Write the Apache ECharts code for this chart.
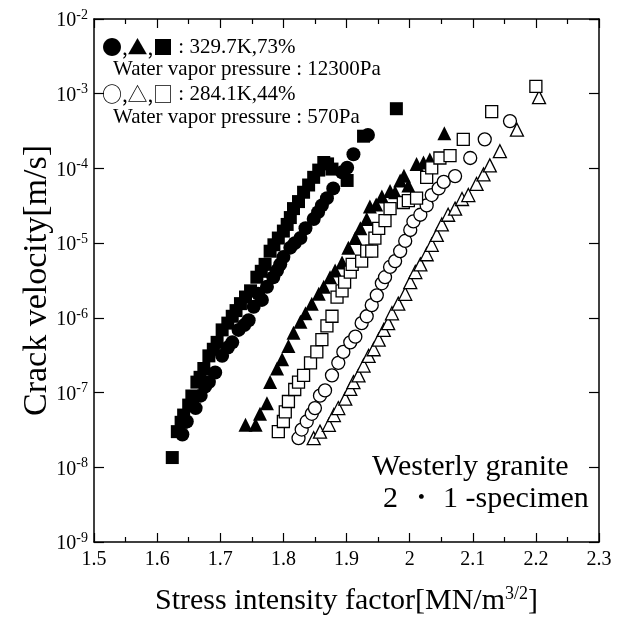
<!DOCTYPE html>
<html><head><meta charset="utf-8">
<script src="https://cdn.jsdelivr.net/npm/echarts@6/dist/echarts.min.js"></script>
<style>html,body{margin:0;padding:0;background:#fff}#c{width:638px;height:621px}</style>
</head><body><div id="c"></div><script>
// ---- data (Stress intensity factor [MN/m^3/2], Crack velocity [m/s]) ----
const hotCircles = [[1.640,2.75e-8],[1.647,4.1e-8],[1.661,6.2e-8],[1.669,9.1e-8],[1.682,1.38e-7],[1.692,1.86e-7],[1.703,3.1e-7],[1.719,4.7e-7],[1.729,6.9e-7],[1.745,9.3e-7],[1.753,1.41e-6],[1.766,1.74e-6],[1.774,2.6e-6],[1.784,3.5e-6],[1.795,5.2e-6],[1.800,6.5e-6],[1.811,8.7e-6],[1.827,1.17e-5],[1.835,1.58e-5],[1.848,2.1e-5],[1.861,3.2e-5],[1.869,4.0e-5],[1.879,5.4e-5],[1.893,8.9e-5],[1.901,1.02e-4],[1.911,1.55e-4],[1.934,2.8e-4],[1.676,1.2e-7],[1.712,4.0e-7],[1.738,8.0e-7],[1.760,2.1e-6],[1.790,4.3e-6],[1.818,1.0e-5],[1.855,2.6e-5]];
const hotTriangles = [[1.740,3.7e-8],[1.756,3.7e-8],[1.763,5.2e-8],[1.774,7.2e-8],[1.779,1.38e-7],[1.790,2.1e-7],[1.798,2.8e-7],[1.808,4.2e-7],[1.816,6.3e-7],[1.827,8.9e-7],[1.835,1.15e-6],[1.845,1.55e-6],[1.856,2.1e-6],[1.864,2.6e-6],[1.874,3.5e-6],[1.882,4.3e-6],[1.893,5.5e-6],[1.903,8.7e-6],[1.914,1.17e-5],[1.922,1.58e-5],[1.932,2.1e-5],[1.937,3.1e-5],[1.947,3.3e-5],[1.956,4.2e-5],[1.969,5.0e-5],[1.977,4.8e-5],[1.985,6.9e-5],[1.991,8.0e-5],[1.998,5.9e-5],[2.011,1.15e-4],[2.022,1.2e-4],[2.032,1.32e-4],[2.055,2.95e-4]];
const hotSquares = [[1.624,1.35e-8],[1.632,3.0e-8],[1.638,4.0e-8],[1.642,5.0e-8],[1.650,6.8e-8],[1.655,9.0e-8],[1.663,1.38e-7],[1.668,1.6e-7],[1.674,2.1e-7],[1.682,3.1e-7],[1.689,3.8e-7],[1.695,4.7e-7],[1.703,6.9e-7],[1.712,8.5e-7],[1.719,1.05e-6],[1.725,1.25e-6],[1.732,1.55e-6],[1.740,1.9e-6],[1.748,2.3e-6],[1.758,3.5e-6],[1.765,4.2e-6],[1.771,5.2e-6],[1.779,7.8e-6],[1.785,9.5e-6],[1.792,1.17e-5],[1.800,1.45e-5],[1.806,1.78e-5],[1.811,2.2e-5],[1.816,2.9e-5],[1.824,3.6e-5],[1.832,4.8e-5],[1.840,6.0e-5],[1.848,7.6e-5],[1.856,9.5e-5],[1.864,1.2e-4],[1.870,1.15e-4],[1.877,9.8e-5],[1.901,6.9e-5],[1.927,2.7e-4],[1.979,6.3e-4]];
const coldCircles = [[1.824,2.45e-8],[1.829,3.2e-8],[1.837,4.1e-8],[1.845,5.2e-8],[1.850,6.2e-8],[1.858,9.1e-8],[1.866,1.07e-7],[1.877,1.7e-7],[1.887,2.5e-7],[1.895,3.5e-7],[1.906,4.7e-7],[1.914,5.6e-7],[1.924,8.5e-7],[1.932,1.05e-6],[1.940,1.48e-6],[1.948,2.0e-6],[1.956,2.9e-6],[1.961,3.5e-6],[1.969,4.8e-6],[1.977,5.75e-6],[1.985,7.8e-6],[1.993,1.07e-5],[2.001,1.5e-5],[2.006,1.95e-5],[2.017,2.4e-5],[2.027,3.2e-5],[2.035,4.4e-5],[2.046,5.4e-5],[2.054,6.6e-5],[2.072,7.9e-5],[2.096,1.38e-4],[2.119,2.45e-4],[2.159,4.3e-4]];
const coldTriangles = [[1.848,2.45e-8],[1.858,3.0e-8],[1.872,3.7e-8],[1.880,5.0e-8],[1.887,6.2e-8],[1.898,8.3e-8],[1.906,1.12e-7],[1.911,1.38e-7],[1.919,1.7e-7],[1.927,2.3e-7],[1.935,3.1e-7],[1.943,3.8e-7],[1.951,5.1e-7],[1.959,6.9e-7],[1.966,8.5e-7],[1.972,1.15e-6],[1.982,1.55e-6],[1.993,2.1e-6],[2.001,3.0e-6],[2.009,4.1e-6],[2.017,5.2e-6],[2.027,7.1e-6],[2.035,9.5e-6],[2.043,1.29e-5],[2.051,1.78e-5],[2.061,2.4e-5],[2.072,2.9e-5],[2.083,3.9e-5],[2.093,4.4e-5],[2.106,6.2e-5],[2.117,8.3e-5],[2.127,1.1e-4],[2.143,1.7e-4],[2.170,3.3e-4],[2.205,9.0e-4]];
const coldSquares = [[1.792,3.0e-8],[1.800,4.1e-8],[1.803,5.5e-8],[1.808,7.6e-8],[1.818,1.1e-7],[1.824,1.38e-7],[1.832,1.7e-7],[1.843,2.5e-7],[1.853,3.5e-7],[1.861,5.1e-7],[1.869,7.8e-7],[1.877,1.05e-6],[1.885,1.9e-6],[1.893,2.3e-6],[1.897,3.0e-6],[1.906,4.1e-6],[1.909,5.2e-6],[1.924,5.75e-6],[1.932,7.8e-6],[1.940,7.8e-6],[1.945,1.17e-5],[1.951,1.58e-5],[1.961,2.0e-5],[1.969,2.9e-5],[1.990,3.5e-5],[1.998,3.7e-5],[2.011,4.0e-5],[2.027,7.6e-5],[2.035,1.02e-4],[2.048,1.38e-4],[2.064,1.48e-4],[2.085,2.45e-4],[2.130,5.75e-4],[2.200,1.25e-3]];
const xRange = [1.5, 2.3];
const yRange = [1e-9, 1e-2];
const legendLines = ['●,▲,■', ' : 329.7K,73%', 'Water vapor pressure : 12300Pa', '○,△,□', ' : 284.1K,44%', 'Water vapor pressure : 570Pa'];
const noteLines = ['Westerly granite', '2 ・ 1 -specimen'];

const FONT = "'Liberation Serif','Times New Roman',serif";
const GLYPH = "'Noto Sans CJK JP','DejaVu Sans',sans-serif";
const chart = echarts.init(document.getElementById('c'), null, {renderer: 'canvas'});
const filled = {color: '#000', opacity: 1};
const open = {color: '#fff', borderColor: '#000', borderWidth: 1.3, opacity: 1};
function sc(name, data, symbol, style, size) {
  return {name, type: 'scatter', data, symbol, symbolSize: size, itemStyle: style,
    xAxisIndex: 0, yAxisIndex: 0, animation: false, emphasis: {disabled: true}};
}
const baseX = {type: 'value', min: xRange[0], max: xRange[1], interval: 0.1,
  axisLine: {show: true, lineStyle: {color: '#000', width: 1.5}},
  axisTick: {show: true, inside: true, length: 9, lineStyle: {color: '#000', width: 1.2}},
  minorTick: {show: true, splitNumber: 2, length: 5, lineStyle: {color: '#000', width: 1.2}},
  splitLine: {show: false}};
const baseY = {type: 'log', logBase: 10, min: yRange[0], max: yRange[1],
  axisLine: {show: true, lineStyle: {color: '#000', width: 1.5}},
  axisTick: {show: true, inside: true, length: 10, lineStyle: {color: '#000', width: 1.2}},
  splitLine: {show: false}};
chart.setOption({
  backgroundColor: '#fff',
  animation: false,
  grid: {left: 94, right: 39, top: 19, bottom: 71, containLabel: false},
  xAxis: [
    Object.assign({}, baseX, {position: 'bottom',
      name: '{t|Stress intensity factor[MN/m}{s|3/2}{t|]}', nameLocation: 'middle', nameGap: 42,
      nameTextStyle: {rich: {t: {fontFamily: FONT, fontSize: 30, color: '#000', verticalAlign: 'bottom', lineHeight: 32},
        s: {fontFamily: FONT, fontSize: 18, color: '#000', verticalAlign: 'bottom', lineHeight: 32, padding: [0, 0, 13, 0]}}},
      axisLabel: {show: true, margin: 8, fontFamily: FONT, fontSize: 20, color: '#000',
        formatter: v => String(+v.toFixed(1))}}),
    Object.assign({}, baseX, {position: 'top', axisLabel: {show: false}})
  ],
  yAxis: [
    Object.assign({}, baseY, {position: 'left',
      name: 'Crack velocity[m/s]', nameLocation: 'middle', nameGap: 40, nameMoveOverlap: false,
      nameTextStyle: {fontFamily: FONT, fontSize: 34, color: '#000'},
      axisLabel: {show: true, margin: 6, color: '#000',
        formatter: v => '{b|10}{s|' + Math.round(Math.log10(v)) + '}',
        rich: {b: {fontFamily: FONT, fontSize: 20, color: '#000', verticalAlign: 'bottom', lineHeight: 24},
          s: {fontFamily: FONT, fontSize: 14, color: '#000', verticalAlign: 'bottom', lineHeight: 24, padding: [0, 0, 9, 0]}}}}),
    Object.assign({}, baseY, {position: 'right', axisLabel: {show: false}})
  ],
  series: [
    sc('hotCircles', hotCircles, 'circle', filled, 14),
    sc('hotTriangles', hotTriangles, 'triangle', filled, 14),
    sc('hotSquares', hotSquares, 'rect', filled, 13),
    sc('coldCircles', coldCircles, 'circle', open, 13),
    sc('coldTriangles', coldTriangles, 'triangle', open, 13),
    sc('coldSquares', coldSquares, 'rect', open, 12)
  ],
  graphic: [
    {type: 'text', left: 102, top: 37, silent: true, style: {
      text: '{g|' + legendLines[0] + '}{t|' + legendLines[1] + '}',
      rich: {g: {fontFamily: GLYPH, fontSize: 20, fill: '#000'},
             t: {fontFamily: FONT, fontSize: 21, fill: '#000'}}}},
    {type: 'text', left: 113, top: 59, silent: true, style: {
      text: legendLines[2], font: '21px ' + FONT, fill: '#000'}},
    {type: 'text', left: 102, top: 84, silent: true, style: {
      text: '{g|' + legendLines[3] + '}{t|' + legendLines[4] + '}',
      rich: {g: {fontFamily: GLYPH, fontSize: 20, fill: '#000'},
             t: {fontFamily: FONT, fontSize: 21, fill: '#000'}}}},
    {type: 'text', left: 113, top: 107, silent: true, style: {
      text: legendLines[5], font: '21px ' + FONT, fill: '#000'}},
    {type: 'text', left: 372, top: 452, silent: true, style: {
      text: noteLines[0], font: '30px ' + FONT, fill: '#000'}},
    {type: 'text', left: 383, top: 484, silent: true, style: {
      text: noteLines[1], font: '30px ' + FONT, fill: '#000'}}
  ]
});
</script></body></html>
